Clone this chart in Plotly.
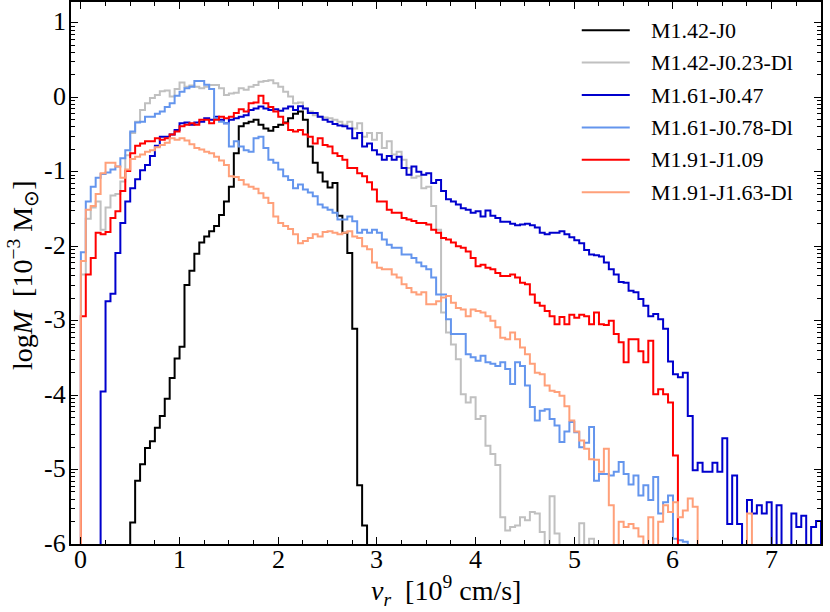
import math
import plotly.graph_objects as go

# ---------------- data: log10 of mass per velocity bin (None = empty bin) ----------------
BIN_WIDTH = 0.05  # 10^9 cm/s

black_start = 0.50
black_logM = [-5.71, -5.15, -4.93, -4.71, -4.62, -4.44, -4.28, -4.05, -3.77, -3.51,
              -3.35, -2.52, -2.33, -2.10, -1.95, -1.87, -1.80, -1.73, -1.58, -1.40,
              -1.20, -0.75, -0.39, -0.35, -0.33, -0.30, -0.37, -0.42, -0.45, -0.40,
              -0.37, -0.34, -0.28, -0.22, -0.19, -0.30, -0.66, -0.88, -1.01, -1.13,
              -1.21, -1.15, -1.59, -1.82, -2.09, -3.11, -5.21, -5.75]

gray_start = 0.0
gray_logM = [-2.38, -1.63, -1.48, -1.40, -1.78, -1.48, -1.32, -1.30, -1.13, -0.78,
             -0.48, -0.33, -0.17, -0.08, -0.01, 0.03, 0.08, 0.09, 0.01, 0.11,
             0.20, 0.14, 0.16, 0.14, 0.12, 0.14, 0.165, 0.165, 0.12, 0.03,
             0.05, 0.06, 0.12, 0.10, 0.14, 0.165, 0.21, 0.22, 0.23, 0.19,
             0.14, 0.075, 0.01, -0.08, -0.07, -0.15, -0.19, -0.24, -0.26, -0.27,
             -0.28, -0.30, -0.33, -0.37, -0.33, -0.42, -0.35, -0.53, -0.48, -0.57,
             -0.48, -0.68, -0.59, -0.77, -0.73, -0.84, -0.95, -1.08, -1.06, -1.22,
             -1.20, -1.46, -1.78, -2.89, -3.16, -3.32, -3.52, -3.99, -4.10, -4.03,
             -4.32, -4.28, -4.68, -4.79, -4.94, -5.64, -5.82, -5.77, -5.75, -5.64,
             -5.68, -5.57, -5.59, -5.84, None, -5.36, -5.86, None, None, None,
             None, -5.72, None, -5.93]

blue_start = 0.20
blue_logM = [-3.95, -2.74, -2.64, -2.09, -1.69, -1.40, -1.22, -1.10, -0.98, -0.91,
             -0.79, -0.65, -0.53, -0.53, -0.50, -0.44, -0.35, -0.34, -0.37, -0.34,
             -0.33, -0.28, -0.30, -0.26, -0.30, -0.35, -0.30, -0.28, -0.26, -0.24,
             -0.17, -0.15, -0.125, -0.15, -0.17, -0.16, -0.18, -0.15, -0.125, -0.17,
             -0.12, -0.15, -0.21, -0.21, -0.26, -0.30, -0.33, -0.36, -0.38, -0.39,
             -0.42, -0.55, -0.48, -0.66, -0.62, -0.71, -0.77, -0.84, -0.79, -0.84,
             -0.80, -0.95, -1.04, -0.93, -1.00, -1.04, -1.02, -1.15, -1.11, -1.26,
             -1.37, -1.40, -1.44, -1.49, -1.51, -1.55, -1.53, -1.60, -1.52, -1.59,
             -1.62, -1.67, -1.67, -1.70, -1.72, -1.71, -1.70, -1.72, -1.75, -1.82,
             -1.84, -1.82, -1.82, -1.80, -1.84, -1.88, -1.92, -1.96, -2.05, -2.11,
             -2.12, -2.14, -2.22, -2.31, -2.38, -2.48, -2.49, -2.60, -2.62, -2.71,
             -2.80, -2.94, -2.91, -2.98, -3.11, -3.55, -3.72, -3.76, -3.70, -4.28,
             -5.01, -4.91, -5.03, -5.03, -4.91, -5.03, -4.58, -5.73, -5.08, -5.73,
             None, -5.41, -5.59, -5.48, -5.59, -5.44, None, -5.48, None, None,
             -5.59, -5.77, -5.62, None, -5.77, -5.69]

lblue_start = 0.0
lblue_logM = [-2.08, -1.40, -1.20, -1.08, -1.03, -1.01, -0.97, -0.93, -0.82, -0.71,
              -0.46, -0.34, -0.33, -0.26, -0.26, -0.22, -0.19, -0.13, -0.08, 0.02,
              0.075, 0.12, 0.14, 0.22, 0.22, 0.17, 0.11, -0.28, -0.33, -0.35,
              -0.66, -0.59, -0.66, -0.71, -0.73, -0.55, -0.53, -0.68, -0.84, -0.88,
              -0.97, -1.06, -1.11, -1.22, -1.17, -1.24, -1.28, -1.33, -1.44, -1.48,
              -1.51, -1.55, -1.64, -1.64, -1.60, -1.665, -1.82, -1.78, -1.82, -1.78,
              -1.82, -1.91, -1.98, -2.02, -2.02, -2.11, -2.11, -2.16, -2.22, -2.27,
              -2.31, -2.42, -2.65, -2.65, -2.98, -3.18, -3.18, -3.18, -3.45, -3.49,
              -3.54, -3.47, -3.56, -3.58, -3.61, -3.56, -3.65, -3.85, -3.56, -3.61,
              -3.87, -4.16, -4.34, -4.21, -4.19, -4.32, -4.41, -4.63, -4.49, -4.36,
              -4.50, -4.70, -4.64, -4.43, -5.15, -5.06, -5.06, -5.08, -5.03, -4.90,
              -5.06, -5.20, -5.08, -5.35, -5.21, -5.41, -5.10, -5.59, -5.44, -5.35,
              -5.93, -5.95, -5.97]

red_start = 0.0
red_logM = [-2.94, -2.38, -2.16, -1.82, -1.84, -1.81, -1.62, -1.53, -1.26, -0.99,
            -0.75, -0.65, -0.62, -0.59, -0.59, -0.55, -0.57, -0.55, -0.50, -0.46,
            -0.39, -0.37, -0.35, -0.37, -0.30, -0.30, -0.35, -0.30, -0.26, -0.28,
            -0.26, -0.21, -0.16, -0.19, -0.08, -0.07, 0.02, -0.08, -0.13, -0.19,
            -0.26, -0.35, -0.44, -0.46, -0.44, -0.50, -0.53, -0.62, -0.55, -0.64,
            -0.66, -0.75, -0.79, -0.84, -0.95, -0.95, -1.02, -1.06, -1.14, -1.24,
            -1.40, -1.40, -1.51, -1.55, -1.55, -1.62, -1.64, -1.66, -1.69, -1.69,
            -1.71, -1.78, -1.82, -1.89, -1.91, -1.95, -2.00, -2.02, -2.07, -2.16,
            -2.27, -2.25, -2.29, -2.31, -2.36, -2.40, -2.40, -2.38, -2.42, -2.49,
            -2.51, -2.65, -2.76, -2.80, -2.87, -2.94, -3.05, -2.95, -3.05, -2.92,
            -2.96, -2.92, -2.94, -3.05, -2.89, -3.05, -3.06, -3.00, -3.18, -3.29,
            -3.56, -3.25, -3.25, -3.41, -3.56, -3.27, -3.99, -3.92, -3.99, -4.10,
            -4.81]

orange_start = 0.0
orange_logM = [-2.20, -1.51, -1.46, -1.30, -1.02, -0.88, -0.88, -0.93, -1.08, -0.97,
               -0.83, -0.80, -0.77, -0.73, -0.71, -0.67, -0.64, -0.61, -0.55, -0.57,
               -0.55, -0.58, -0.63, -0.68, -0.70, -0.73, -0.75, -0.80, -0.85, -0.91,
               -1.06, -1.07, -1.11, -1.17, -1.20, -1.23, -1.29, -1.35, -1.42, -1.60,
               -1.69, -1.73, -1.77, -1.84, -1.96, -1.93, -1.89, -1.84, -1.87, -1.81,
               -1.80, -1.82, -1.84, -1.82, -1.80, -1.87, -1.89, -2.00, -2.04, -2.22,
               -2.29, -2.31, -2.31, -2.38, -2.42, -2.51, -2.56, -2.62, -2.65, -2.62,
               -2.78, -2.78, -2.74, -2.69, -2.67, -2.76, -2.83, -2.85, -2.94, -2.85,
               -2.87, -2.89, -2.94, -3.00, -3.09, -3.23, -3.25, -3.16, -3.25, -3.36,
               -3.45, -3.58, -3.70, -3.72, -3.87, -3.94, -3.96, -4.01, -4.15, -4.34,
               -4.49, -4.61, -4.72, -4.86, -4.87, -5.03, -4.72, -5.48, None, -5.70,
               -5.77, -5.73, -5.79, -5.90, None, -5.64, None, -5.70, -5.48, -5.57,
               -5.44, -5.64, -5.55, -5.39, -5.50, None, None, None, None, None,
               None, None, None, None, None, -5.59]

series_names = ["M1.42-J0", "M1.42-J0.23-Dl", "M1.61-J0.47",
                "M1.61-J0.78-Dl", "M1.91-J1.09", "M1.91-J1.63-Dl"]
series_starts = [black_start, gray_start, blue_start, lblue_start, red_start, orange_start]
series_values = [black_logM, gray_logM, blue_logM, lblue_logM, red_logM, orange_logM]
series_colors = ["#000000", "#c0c0c0", "#0000cd", "#6495ed", "#ff0000", "#ffa07a"]

x_ticks = [0, 1, 2, 3, 4, 5, 6, 7]
x_ticktext = ["0", "1", "2", "3", "4", "5", "6", "7"]
y_ticks = [-6, -5, -4, -3, -2, -1, 0, 1]
y_ticktext = ["-6", "-5", "-4", "-3", "-2", "-1", "0", "1"]

x_title = "<i>v<sub>r</sub></i>  [10<sup>9</sup> cm/s]"
y_title = "log<i>M</i>  [10<sup>−3</sup> M<sub>⊙</sub>]"

# ---------------- figure ----------------
FLOOR = -12.0  # empty bins (log of zero) drawn below the axis, clipped like a log axis
FONT = "Liberation Serif"
TICK_SIZE = 26
TITLE_SIZE = 28


def step_outline(start, vals):
    n = len(vals)
    edges = [round(start + i * BIN_WIDTH, 6) for i in range(n + 1)]
    ys = [FLOOR if v is None else v for v in vals]
    xs = [edges[0]] + edges[:-1] + [edges[-1], edges[-1]]
    yy = [FLOOR] + ys + [ys[-1], FLOOR]
    return xs, yy


fig = go.Figure()
for name, start, vals, color in zip(series_names, series_starts, series_values, series_colors):
    xs, yy = step_outline(start, vals)
    fig.add_trace(go.Scatter(x=xs, y=yy, mode="lines", name=name,
                             line=dict(color=color, width=2, shape="hv"),
                             showlegend=False, hoverinfo="skip"))

# manual legend (longer line samples, like the reference)
leg_x0, leg_x1, leg_tx = 0.681, 0.745, 0.771
leg_y0, leg_dy = 0.948, 0.0598
for i, (name, color) in enumerate(zip(series_names, series_colors)):
    yy = leg_y0 - i * leg_dy
    fig.add_shape(type="line", xref="paper", yref="paper", x0=leg_x0, x1=leg_x1,
                  y0=yy, y1=yy, line=dict(color=color, width=2))
    fig.add_annotation(xref="paper", yref="paper", x=leg_tx, y=yy, text=name,
                       showarrow=False, xanchor="left", yanchor="middle",
                       font=dict(family=FONT, size=22, color="black"))

# tick labels placed close to the axes (as in the reference)
for t, s in zip(x_ticks, x_ticktext):
    fig.add_annotation(xref="x", yref="paper", x=t, y=0, text=s, showarrow=False,
                       xanchor="center", yanchor="top", yshift=0, borderpad=0,
                       font=dict(family=FONT, size=TICK_SIZE, color="black"))
for t, s in zip(y_ticks, y_ticktext):
    fig.add_annotation(xref="paper", yref="y", x=0, y=t, text=s, showarrow=False,
                       xanchor="right", yanchor="middle", xshift=-4, yshift=1, borderpad=0,
                       font=dict(family=FONT, size=TICK_SIZE, color="black"))

# axis titles
fig.add_annotation(xref="paper", yref="paper", x=0.5, y=0, text=x_title, showarrow=False,
                   xanchor="center", yanchor="middle", yshift=-46, borderpad=0,
                   font=dict(family=FONT, size=TITLE_SIZE, color="black"))
fig.add_annotation(xref="paper", yref="paper", x=0, y=0.5, text=y_title, showarrow=False,
                   textangle=-90, xanchor="center", yanchor="middle", xshift=-49, yshift=-2,
                   font=dict(family=FONT, size=TITLE_SIZE, color="black"))

# log-axis style minor ticks (2..9 within each decade)
y_minor = []
for d in range(-6, 2):
    for m in range(2, 10):
        v = d + math.log10(m)
        if v < 1.28:
            y_minor.append(round(v, 5))

axis_common = dict(showline=True, linecolor="black", linewidth=1.5, mirror="ticks",
                   ticks="inside", ticklen=7, tickwidth=1.3, tickcolor="black",
                   showgrid=False, zeroline=False, automargin=False,
                   showticklabels=False)

fig.update_layout(
    width=830, height=612,
    margin=dict(l=71, r=9, t=2, b=68),
    plot_bgcolor="white", paper_bgcolor="white",
    xaxis=dict(range=[-0.1, 7.5], tickmode="array", tickvals=x_ticks,
               minor=dict(ticks="inside", tickmode="linear", tick0=0, dtick=0.25,
                          ticklen=4, tickwidth=1.1, tickcolor="black", showgrid=False),
               **axis_common),
    yaxis=dict(range=[-6, 1.28], tickmode="array", tickvals=y_ticks,
               minor=dict(ticks="inside", tickmode="array", tickvals=y_minor,
                          ticklen=4, tickwidth=1.1, tickcolor="black", showgrid=False),
               **axis_common),
)

fig.write_html("out.html", config={"displayModeBar": False},
               post_script="document.body.style.margin='0px';")
